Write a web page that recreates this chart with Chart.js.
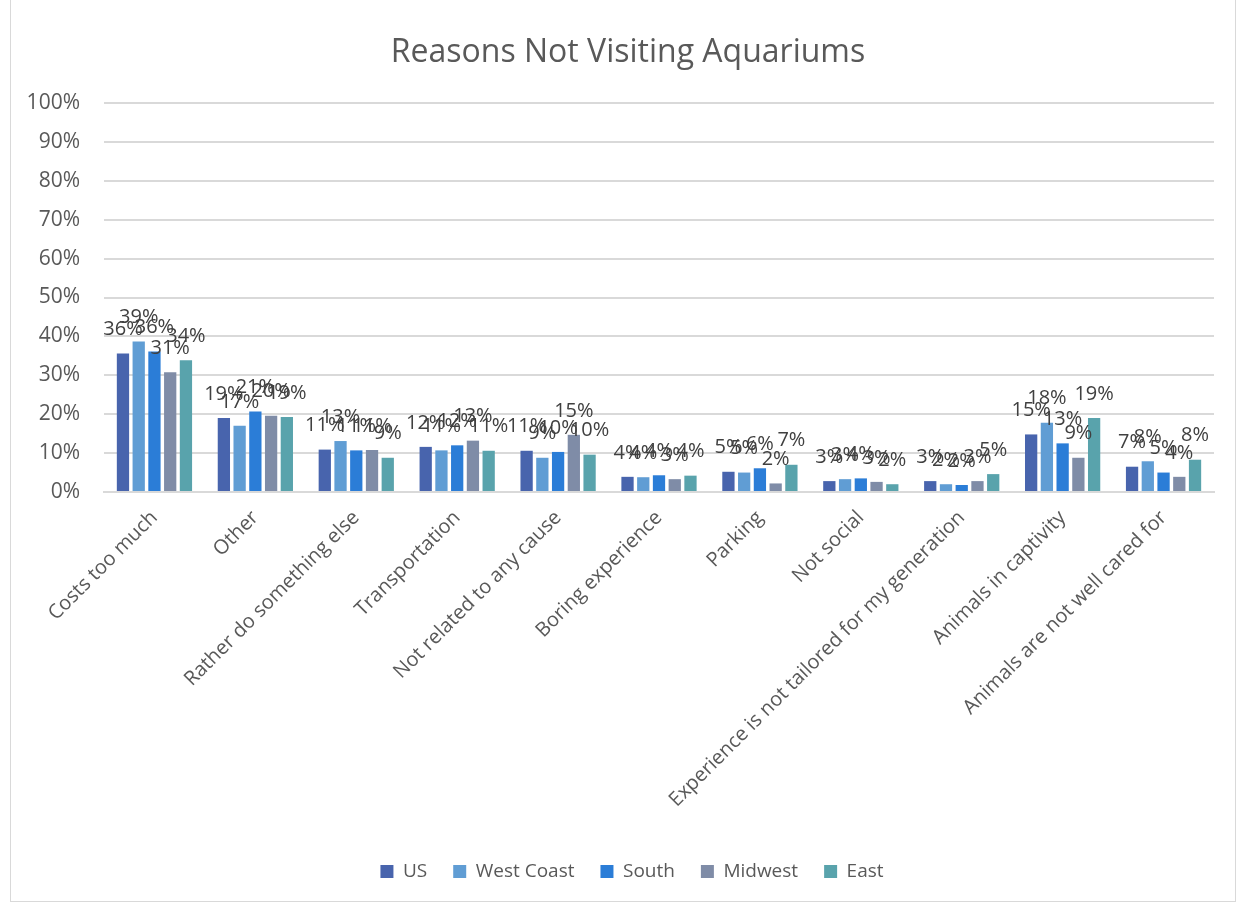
<!DOCTYPE html>
<html>
<head>
<meta charset="utf-8">
<title>Reasons Not Visiting Aquariums</title>
<script src="https://cdn.jsdelivr.net/npm/chart.js@4.4.0/dist/chart.umd.min.js"></script>
<style>
  html, body { margin: 0; padding: 0; background: #fff; }
  .frame {
    position: absolute; left: 10px; top: -1px;
    width: 1226px; height: 903px;
    border: 1px solid #d9d9d9;
    box-sizing: border-box;
  }
  .wrap { position: absolute; left: 0; top: 0; width: 1238px; height: 905px; }
</style>
</head>
<body>
<div class="frame"></div>
<div class="wrap"><canvas id="reasons" width="1238" height="905"></canvas></div>
<script>
const reasons = [
  'Costs too much', 'Other', 'Rather do something else', 'Transportation',
  'Not related to any cause', 'Boring experience', 'Parking', 'Not social',
  'Experience is not tailored for my generation', 'Animals in captivity',
  'Animals are not well cared for'
];
// percent of respondents per region
const us        = [35.6, 19.0, 10.9, 11.6, 10.6, 3.9, 5.2, 2.8, 2.8, 14.8, 6.5];
const westCoast = [38.7, 17.0, 13.1, 10.7,  8.8, 3.8, 5.0, 3.3, 2.0, 17.8, 7.9];
const south     = [36.1, 20.7, 10.7, 12.0, 10.3, 4.3, 6.1, 3.5, 1.8, 12.5, 5.0];
const midwest   = [30.8, 19.6, 10.8, 13.2, 14.7, 3.3, 2.2, 2.6, 2.8,  8.8, 3.9];
const east      = [33.9, 19.3,  8.8, 10.6,  9.6, 4.2, 7.0, 2.0, 4.6, 19.0, 8.3];
const yTicks = [0, 10, 20, 30, 40, 50, 60, 70, 80, 90, 100];

const FONT = "'Open Sans', 'Noto Sans', sans-serif";

// values printed above every bar
const barLabels = {
  id: 'barLabels',
  afterDatasetsDraw(chart) {
    const ctx = chart.ctx;
    ctx.save();
    ctx.font = '20px ' + FONT;
    ctx.fillStyle = '#404040';
    ctx.textAlign = 'center';
    ctx.textBaseline = 'middle';
    chart.data.datasets.forEach((ds, i) => {
      chart.getDatasetMeta(i).data.forEach((bar, j) => {
        ctx.fillText(Math.round(ds.data[j]) + '%', bar.x, bar.y - 24);
      });
    });
    ctx.restore();
  }
};

// nudge title and legend a little right so they sit over the plot rather than the canvas
const shiftBoxes = {
  id: 'shiftBoxes',
  afterLayout(chart) {
    if (chart.titleBlock) chart.titleBlock.left += 32;
    if (chart.legend) chart.legend.left += 40;
  }
};

const series = [
  ['US', us, '#4864ad'],
  ['West Coast', westCoast, '#609dd4'],
  ['South', south, '#2b7dd7'],
  ['Midwest', midwest, '#7f8ca7'],
  ['East', east, '#59a3ac']
];

new Chart(document.getElementById('reasons'), {
  type: 'bar',
  data: {
    labels: reasons,
    datasets: series.map(([name, data, color]) => ({
      label: name,
      data: data,
      backgroundColor: color,
      borderWidth: 0,
      categoryPercentage: 0.78,
      barPercentage: 0.78
    }))
  },
  options: {
    responsive: false,
    animation: false,
    layout: { padding: { left: 10, right: 24, top: 0, bottom: 14 } },
    plugins: {
      title: {
        display: true,
        text: 'Reasons Not Visiting Aquariums',
        color: '#595959',
        font: { family: FONT, size: 32, weight: 'normal' },
        padding: { top: 34, bottom: 30.6 }
      },
      legend: {
        position: 'bottom',
        labels: {
          color: '#595959',
          font: { family: FONT, size: 19 },
          boxWidth: 13,
          boxHeight: 13,
          padding: 26
        }
      },
      tooltip: { enabled: false }
    },
    scales: {
      x: {
        grid: { display: false },
        border: { color: '#d9d9d9', width: 2 },
        ticks: {
          color: '#595959',
          font: { family: FONT, size: 20 },
          minRotation: 45,
          maxRotation: 45,
          autoSkip: false,
          padding: 6
        },
        afterFit(scale) { scale.height = 344; }
      },
      y: {
        min: 0,
        max: 100,
        afterBuildTicks(scale) { scale.ticks = yTicks.map(v => ({ value: v })); },
        grid: { color: '#d9d9d9', lineWidth: 2, drawTicks: false },
        border: { display: false },
        ticks: {
          color: '#595959',
          font: { family: FONT, size: 21 },
          padding: 24,
          callback: v => v + '%'
        },
        afterFit(scale) { scale.width = 94; }
      }
    }
  },
  plugins: [barLabels, shiftBoxes]
});
</script>
</body>
</html>
